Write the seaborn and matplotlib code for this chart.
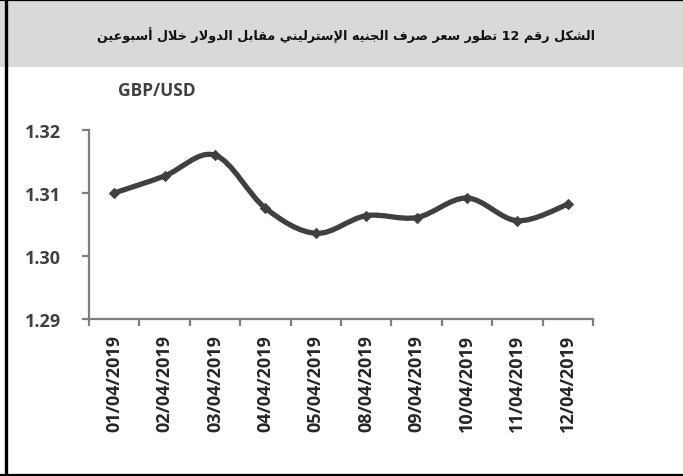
import numpy as np
import pandas as pd
import matplotlib
matplotlib.use("Agg")
import matplotlib.pyplot as plt
import seaborn as sns
from matplotlib.path import Path
from matplotlib.patches import PathPatch, Rectangle
from matplotlib.lines import Line2D

dates = ["01/04/2019", "02/04/2019", "03/04/2019", "04/04/2019", "05/04/2019",
         "08/04/2019", "09/04/2019", "10/04/2019", "11/04/2019", "12/04/2019"]
rates = [1.3100, 1.3127, 1.3160, 1.3076, 1.3036,
         1.3064, 1.3061, 1.3092, 1.3056, 1.3082]
y_ticks = [1.29, 1.30, 1.31, 1.32]
title = "الشكل رقم 12 تطور سعر صرف الجنيه الإسترليني مقابل الدولار خلال أسبوعين"
unit_label = "GBP/USD"

# --- minimal arabic shaping (matplotlib has no complex text layout) ---
FORMS = {  # isolated, final, initial, medial
    "ا": (0xFE8D, 0xFE8E), "أ": (0xFE83, 0xFE84), "إ": (0xFE87, 0xFE88),
    "د": (0xFEA9, 0xFEAA), "ر": (0xFEAD, 0xFEAE), "و": (0xFEED, 0xFEEE),
    "ب": (0xFE8F, 0xFE90, 0xFE91, 0xFE92), "ت": (0xFE95, 0xFE96, 0xFE97, 0xFE98),
    "ج": (0xFE9D, 0xFE9E, 0xFE9F, 0xFEA0), "خ": (0xFEA5, 0xFEA6, 0xFEA7, 0xFEA8),
    "س": (0xFEB1, 0xFEB2, 0xFEB3, 0xFEB4), "ش": (0xFEB5, 0xFEB6, 0xFEB7, 0xFEB8),
    "ص": (0xFEB9, 0xFEBA, 0xFEBB, 0xFEBC), "ط": (0xFEC1, 0xFEC2, 0xFEC3, 0xFEC4),
    "ع": (0xFEC9, 0xFECA, 0xFECB, 0xFECC), "ف": (0xFED1, 0xFED2, 0xFED3, 0xFED4),
    "ق": (0xFED5, 0xFED6, 0xFED7, 0xFED8), "ك": (0xFED9, 0xFEDA, 0xFEDB, 0xFEDC),
    "ل": (0xFEDD, 0xFEDE, 0xFEDF, 0xFEE0), "م": (0xFEE1, 0xFEE2, 0xFEE3, 0xFEE4),
    "ن": (0xFEE5, 0xFEE6, 0xFEE7, 0xFEE8), "ه": (0xFEE9, 0xFEEA, 0xFEEB, 0xFEEC),
    "ي": (0xFEF1, 0xFEF2, 0xFEF3, 0xFEF4),
}
LAM_ALEF = {"ا": (0xFEFB, 0xFEFC), "أ": (0xFEF7, 0xFEF8), "إ": (0xFEF9, 0xFEFA)}


def shape_word(word):
    units = []  # (forms, dual)
    i = 0
    while i < len(word):
        c = word[i]
        if c == "ل" and i + 1 < len(word) and word[i + 1] in LAM_ALEF:
            units.append((LAM_ALEF[word[i + 1]], False))
            i += 2
            continue
        f = FORMS[c]
        units.append((f, len(f) == 4))
        i += 1
    out = []
    for k, (f, dual) in enumerate(units):
        jp = k > 0 and units[k - 1][1]
        jn = dual and k + 1 < len(units)
        if jp and jn:
            out.append(f[3])
        elif jp:
            out.append(f[1])
        elif jn:
            out.append(f[2])
        else:
            out.append(f[0])
    return "".join(chr(c) for c in reversed(out))


def visual(text):
    words = []
    for w in text.split(" "):
        words.append(w if w.isdigit() else shape_word(w))
    return " ".join(reversed(words))


sns.set_style("white")
plt.rcParams["font.family"] = ["Open Sans", "DejaVu Sans"]

fig = plt.figure(figsize=(6.83, 4.77), dpi=100)
ax = fig.add_axes([89 / 683, 1 - 320 / 477, (593 - 89) / 683, (320 - 131) / 477])

# frame and header band
fig.patches.append(Rectangle((0, 1 - 68 / 477), 1, 66 / 477, transform=fig.transFigure,
                             facecolor="#d9d9d9", edgecolor="none", zorder=0))
fig.lines.append(Line2D([0, 1], [1 - 1 / 477] * 2, transform=fig.transFigure, color="black", lw=1.6))
fig.lines.append(Line2D([0, 1], [1 / 477] * 2, transform=fig.transFigure, color="black", lw=1.6))
fig.lines.append(Line2D([5.5 / 683] * 2, [0, 1], transform=fig.transFigure, color="black", lw=2.4))

fig.text(346 / 683, 1 - 35 / 477, visual(title), ha="center", va="center",
         fontsize=9.2, fontweight="bold", family=["DejaVu Sans"], color="#111111")
fig.text(157 / 683, 1 - 91 / 477, unit_label, ha="center", va="center",
         fontsize=12.5, fontweight="bold", color="#404040")

df = pd.DataFrame({"pos": np.arange(len(dates)), "rate": rates})

# smoothed line (bezier through the data points, as in the source chart)
pts = df[["pos", "rate"]].to_numpy()
ext = np.vstack([pts[0], pts, pts[-1]])
verts = [tuple(pts[0])]
codes = [Path.MOVETO]
for i in range(len(pts) - 1):
    p0, p1, p2, p3 = ext[i], ext[i + 1], ext[i + 2], ext[i + 3]
    c1 = p1 + (p2 - p0) / 6
    c2 = p2 - (p3 - p1) / 6
    verts += [tuple(c1), tuple(c2), tuple(p2)]
    codes += [Path.CURVE4] * 3
ax.add_patch(PathPatch(Path(verts, codes), fill=False, edgecolor="#404040",
                       lw=3.8, capstyle="round", joinstyle="round", zorder=3))

sns.scatterplot(data=df, x="pos", y="rate", marker="D", s=34, color="#404040",
                edgecolor="#404040", linewidth=0, ax=ax, zorder=4)

ax.set_xlim(-0.5, len(dates) - 0.5)
ax.set_ylim(y_ticks[0], y_ticks[-1])
ax.set_yticks(y_ticks)
ax.set_yticklabels([f"{v:.2f}" for v in y_ticks])
ax.set_xticks(np.arange(len(dates) + 1) - 0.5)
ax.set_xticklabels([])
ax.set_xticks(np.arange(len(dates)), minor=True)
ax.set_xticklabels(dates, minor=True, rotation=90)
ax.set_xlabel("")
ax.set_ylabel("")

for side in ["top", "right"]:
    ax.spines[side].set_visible(False)
for side in ["left", "bottom"]:
    ax.spines[side].set_color("#7f7f7f")
    ax.spines[side].set_linewidth(1.6)

ax.tick_params(axis="y", which="major", left=True, length=5, width=1.6, color="#7f7f7f",
               pad=15, labelsize=13, labelcolor="#404040")
ax.tick_params(axis="x", which="major", bottom=True, length=5, width=1.6, color="#7f7f7f")
ax.tick_params(axis="x", which="minor", bottom=True, length=0, pad=11,
               labelsize=13, labelcolor="#262626")
for lab in ax.get_yticklabels() + ax.get_xticklabels(minor=True):
    lab.set_fontweight("bold")

fig.savefig("out.png", dpi=100)
